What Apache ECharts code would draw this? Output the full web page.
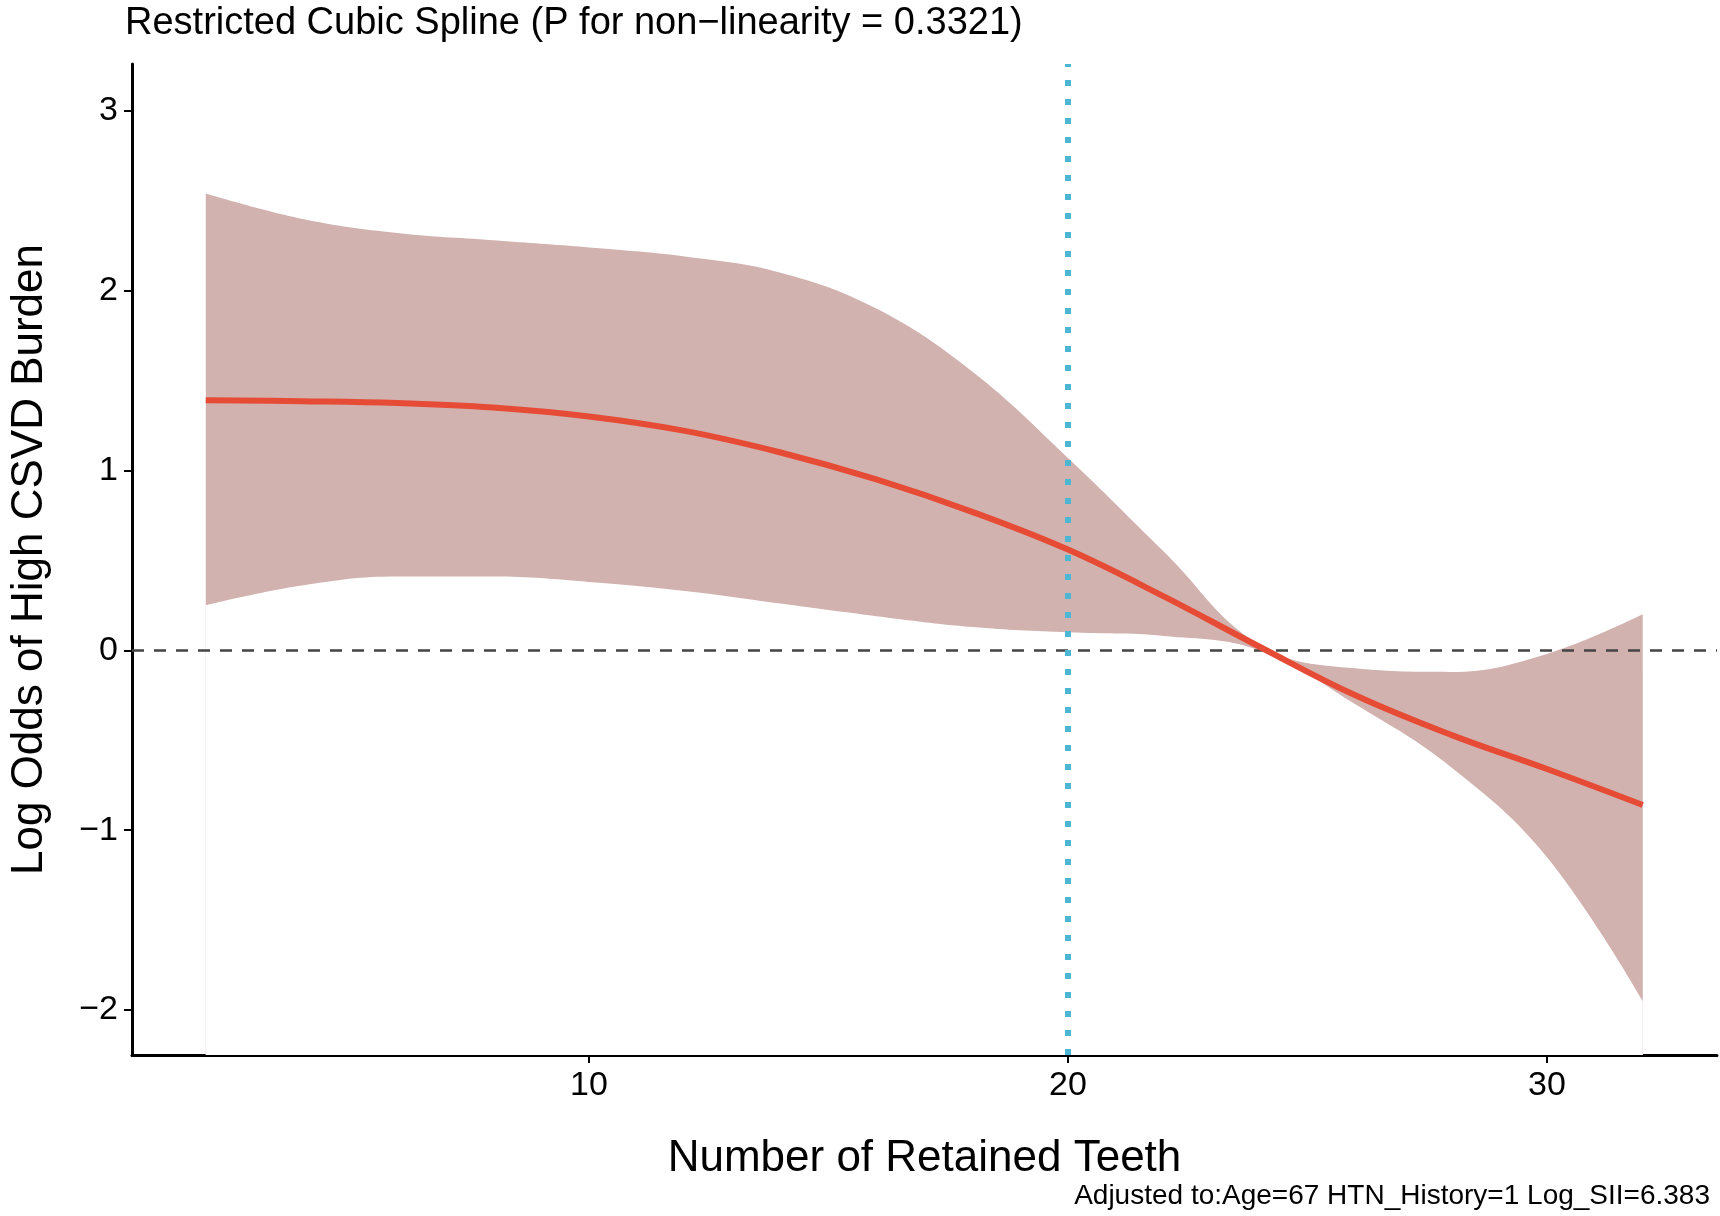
<!DOCTYPE html>
<html><head><meta charset="utf-8">
<script src="https://cdn.jsdelivr.net/npm/echarts@6/dist/echarts.min.js"></script>
<style>html,body{margin:0;padding:0;background:#fff}#c{width:1720px;height:1216px}</style>
</head><body><div id="c"></div>
<script>
const xs = [2,4,6,8,10,12,14,16,18,20,22,24,26,28,30,32];
const fit = [1.39,1.385,1.375,1.35,1.30,1.22,1.10,0.95,0.77,0.56,0.30,0.02,-0.25,-0.47,-0.66,-0.86];
const upper = [2.54,2.40,2.32,2.28,2.24,2.19,2.10,1.90,1.55,1.07,0.55,0.03,-0.10,-0.12,-0.02,0.20];
const lower = [0.25,0.36,0.41,0.41,0.38,0.33,0.26,0.19,0.13,0.10,0.08,0.00,-0.30,-0.65,-1.15,-1.95];
const xTicks = [10,20,30];
const yTicks = [-2,-1,0,1,2,3];
const refX = 20;
const font = 'Liberation Sans, Arial, sans-serif';
const chart = echarts.init(document.getElementById('c'));
chart.setOption({
  animation:false,
  title:{text:'Restricted Cubic Spline (P for non\u2212linearity = 0.3321)',left:120,top:0,
    textStyle:{fontFamily:font,fontSize:38,fontWeight:'normal',color:'#000'}},
  graphic:[{type:'text',right:10,bottom:6,style:{text:'Adjusted to:Age=67 HTN_History=1 Log_SII=6.383',
    font:'28px Liberation Sans, Arial, sans-serif',fill:'#000'}}],
  grid:{left:123,right:3,top:64,bottom:161},
  xAxis:{type:'value',min:0.46,max:33.55,
    name:'Number of Retained Teeth',nameLocation:'middle',nameGap:82,
    nameTextStyle:{fontFamily:font,fontSize:44,color:'#000'},
    axisLine:{onZero:false,lineStyle:{color:'#000',width:3}},
    axisTick:{show:true,length:8,lineStyle:{color:'#000',width:2},customValues:xTicks},
    axisLabel:{fontFamily:font,fontSize:34,color:'#000',margin:14,customValues:xTicks},
    splitLine:{show:false}},
  yAxis:{type:'value',min:-2.25,max:3.26,
    name:'Log Odds of High CSVD Burden',nameLocation:'middle',nameGap:80,
    nameTextStyle:{fontFamily:font,fontSize:44,color:'#000'},
    axisLine:{show:true,onZero:false,lineStyle:{color:'#000',width:3}},
    axisTick:{show:true,length:8,lineStyle:{color:'#000',width:2},customValues:yTicks},
    axisLabel:{fontFamily:font,fontSize:34,color:'#000',margin:14,customValues:yTicks,
      formatter:v=>String(v).replace('-','\u2212')},
    splitLine:{show:false}},
  series:[
    {type:'line',data:xs.map((x,i)=>[x,upper[i]]),smooth:0.4,z:1,
     symbol:'none',lineStyle:{opacity:0},areaStyle:{color:'#D1B2AF',opacity:1,origin:'start'},silent:true},
    {type:'line',data:xs.map((x,i)=>[x,lower[i]]),smooth:0.4,z:2,
     symbol:'none',lineStyle:{opacity:0},areaStyle:{color:'#fff',opacity:1,origin:'start'},silent:true},
    {type:'line',data:xs.map((x,i)=>[x,fit[i]]),smooth:0.4,symbol:'none',
     lineStyle:{color:'#E64B35',width:6},z:5,
     markLine:{silent:true,symbol:'none',label:{show:false},
       data:[{yAxis:0,lineStyle:{color:'#444',width:2.5,type:[12,10]}},
             {xAxis:refX,lineStyle:{color:'#4DB6D3',width:6,type:[6,13]}}]}}
  ]
});
</script></body></html>
